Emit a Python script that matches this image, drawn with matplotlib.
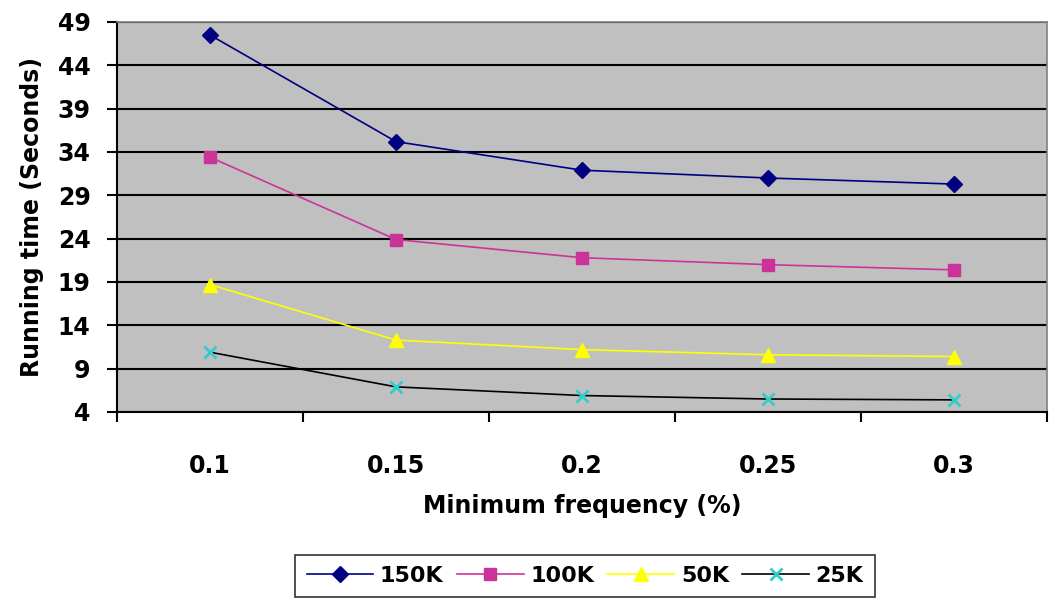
import matplotlib
matplotlib.use("Agg")
import matplotlib.pyplot as plt
from matplotlib.ticker import FixedLocator, NullFormatter, FixedFormatter

plt.rcParams['font.family'] = ['DejaVu Sans']
plt.rcParams['font.weight'] = 'bold'

categories = ['0.1', '0.15', '0.2', '0.25', '0.3']
series_names = ['150K', '100K', '50K', '25K']
s150 = [47.5, 35.2, 31.9, 31.0, 30.3]
s100 = [33.4, 23.9, 21.8, 21.0, 20.4]
s50 = [18.7, 12.3, 11.2, 10.6, 10.4]
s25 = [10.9, 6.9, 5.9, 5.5, 5.4]
yticks = [4, 9, 14, 19, 24, 29, 34, 39, 44, 49]

fig = plt.figure(figsize=(10.5, 6.01), dpi=100)
ax = fig.add_axes([117/1050, 1-412/601, 930/1050, 390/601])
ax.set_facecolor('#c0c0c0')

x = list(range(len(categories)))
styles = [
    dict(color='#000080', marker='D', markersize=8, mfc='#000080', mec='#000080'),
    dict(color='#cc3399', marker='s', markersize=9, mfc='#cc3399', mec='#cc3399'),
    dict(color='#ffff00', marker='^', markersize=10, mfc='#ffff00', mec='#ffff00'),
    dict(color='#000000', marker='x', markersize=8, mfc='#33cccc', mec='#33cccc', mew=2),
]
for name, vals, st in zip(series_names, [s150, s100, s50, s25], styles):
    ax.plot(x, vals, lw=1.2, label=name, **st, zorder=3)

ax.set_ylim(4, 49)
ax.set_xlim(-0.5, len(categories) - 0.5)
ax.set_yticks(yticks)
ax.grid(axis='y', color='black', lw=1.5, zorder=1)
ax.set_axisbelow(True)

ax.xaxis.set_major_locator(FixedLocator([i - 0.5 for i in range(len(categories) + 1)]))
ax.xaxis.set_major_formatter(NullFormatter())
ax.xaxis.set_minor_locator(FixedLocator(x))
ax.xaxis.set_minor_formatter(FixedFormatter(categories))
ax.tick_params(axis='x', which='major', direction='out', length=7, width=1.5, color='black')
ax.tick_params(axis='x', which='minor', length=0, pad=30, labelsize=17)
ax.tick_params(axis='y', direction='out', length=7, width=1.5, pad=12, labelsize=17)
for lab in ax.get_yticklabels() + ax.xaxis.get_minorticklabels():
    lab.set_fontweight('bold')

for s in ['left', 'bottom']:
    ax.spines[s].set_color('black')
    ax.spines[s].set_linewidth(1.5)
for s in ['top', 'right']:
    ax.spines[s].set_color('#808080')
    ax.spines[s].set_linewidth(1.2)

ax.set_xlabel('Minimum frequency (%)', fontsize=17, fontweight='bold', labelpad=12)
ax.set_ylabel('Running time (Seconds)', fontsize=17, fontweight='bold', labelpad=10)

leg = fig.legend(loc='center', bbox_to_anchor=(585/1050, 1-576/601), ncol=4,
                 frameon=True, fancybox=False, edgecolor='black',
                 handlelength=3.0, handletextpad=0.3, columnspacing=0.6,
                 borderpad=0.5, prop={'weight': 'bold', 'size': 16})
leg.get_frame().set_linewidth(1.2)

fig.savefig('out.png', dpi=100, facecolor='white')
